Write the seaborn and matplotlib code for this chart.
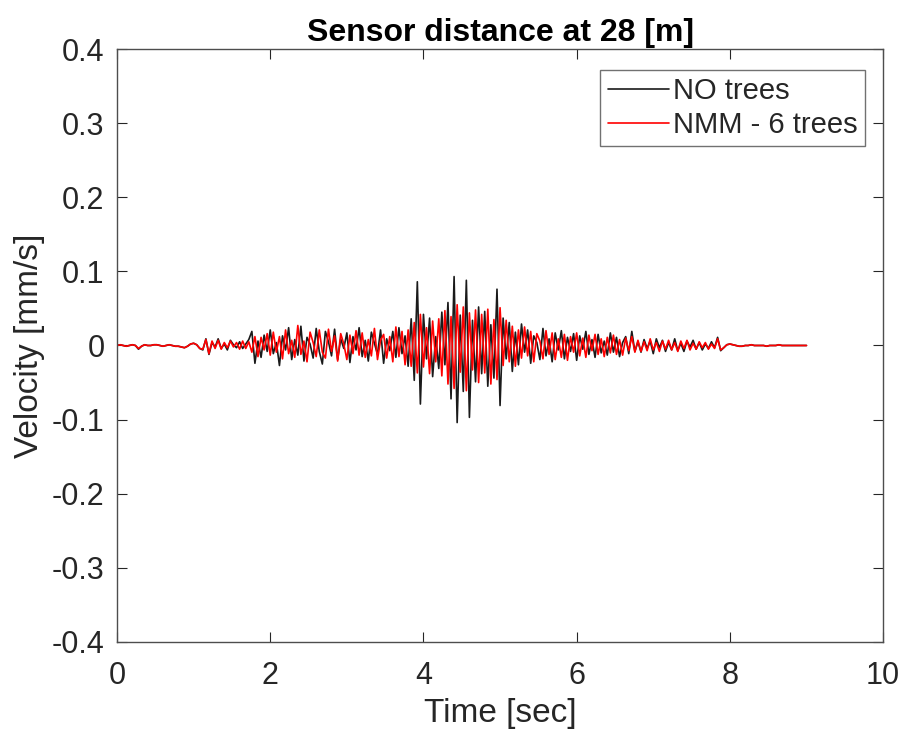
import numpy as np
import pandas as pd
import matplotlib
matplotlib.use("Agg")
import matplotlib.pyplot as plt
import seaborn as sns

title = "Sensor distance at 28 [m]"
series_names = ["NO trees", "NMM - 6 trees"]
x_ticks = [0, 2, 4, 6, 8, 10]
y_ticks = [-0.4, -0.3, -0.2, -0.1, 0, 0.1, 0.2, 0.3, 0.4]

# velocity [mm/s], sampled every 0.04 s from 0 to 9 s
vel_no_trees = [
    0.0, 0.001, 0.0, -0.001, 0.0, 0.001, 0.0, -0.005, -0.001, 0.001,
    0.0, 0.0, 0.001, 0.001, 0.0, -0.001, 0.0, 0.001, 0.0, -0.001,
    -0.001, -0.002, -0.003, -0.001, 0.002, 0.003, 0.001, -0.004, -0.006, 0.009,
    -0.012, 0.004, -0.002, 0.009, -0.004, 0.002, -0.006, 0.007, 0.001, -0.003,
    0.005, -0.004, 0.002, 0.008, 0.019, -0.024, 0.006, -0.016, 0.014, -0.008,
    0.021, -0.011, 0.004, -0.027, 0.013, -0.006, 0.024, -0.019, 0.008, -0.013,
    0.026, -0.021, 0.011, 0.002, -0.017, 0.023, -0.008, -0.025, 0.019, 0.005,
    -0.014, 0.022, -0.019, 0.009, -0.004, 0.017, -0.023, 0.012, -0.006, 0.024,
    -0.015, 0.007, -0.021, 0.018, 0.003, -0.012, 0.021, -0.024, 0.009, -0.007,
    0.019, -0.016, 0.024, -0.011, 0.013, -0.028, 0.036, -0.047, 0.086, -0.079,
    0.042, -0.018, 0.037, -0.042, 0.012, -0.031, 0.045, -0.026, 0.058, -0.072,
    0.093, -0.104, 0.041, -0.062, 0.088, -0.097, 0.034, -0.049, 0.052, -0.038,
    0.046, -0.055, 0.028, -0.044, 0.076, -0.081, 0.037, -0.018, 0.031, -0.035,
    0.018, -0.026, 0.029, -0.009, 0.021, -0.024, 0.013, 0.004, -0.019, 0.023,
    -0.014, 0.009, -0.022, 0.017, -0.006, 0.02, -0.018, 0.011, -0.008, 0.016,
    -0.02, 0.013, -0.005, 0.019, -0.012, 0.008, -0.016, 0.015, -0.01, 0.006,
    -0.013, 0.017, -0.009, 0.011, -0.015, 0.004, 0.012, -0.011, 0.019, -0.008,
    0.005, -0.009, 0.008, -0.004, 0.006, -0.011, 0.009, -0.003, 0.007, -0.008,
    0.004, -0.006, 0.009, -0.007, 0.003, -0.008, 0.006, -0.002, 0.007, -0.005,
    0.004, -0.006, 0.002, -0.004, 0.005, -0.003, 0.011, -0.007, -0.003, 0.001,
    0.002, 0.001, 0.0, -0.001, -0.001, 0.0, 0.0, 0.001, 0.0, 0.0,
    0.0, 0.0, -0.001, 0.0, 0.0, 0.0, 0.001, 0.0, 0.0, 0.0,
    0.0, 0.0, 0.0, 0.0, 0.0, 0.0,
]

vel_nmm_6_trees = [
    0.0, 0.001, 0.0, -0.001, 0.0, 0.001, 0.0, -0.004, -0.001, 0.001,
    0.0, 0.0, 0.001, 0.001, 0.0, -0.001, 0.0, 0.001, 0.0, -0.001,
    -0.001, -0.002, -0.003, -0.001, 0.002, 0.003, 0.001, -0.004, -0.005, 0.008,
    -0.011, 0.006, -0.004, 0.007, -0.005, 0.004, -0.003, 0.006, -0.002, 0.004,
    -0.005, 0.006, -0.004, 0.005, -0.009, 0.012, -0.015, 0.011, -0.006, 0.016,
    -0.013, 0.018, -0.009, 0.012, -0.018, 0.021, -0.011, 0.007, -0.016, 0.027,
    -0.012, 0.006, -0.022, 0.018, 0.004, -0.015, 0.021, -0.009, -0.017, 0.022,
    -0.008, 0.013, -0.021, 0.016, 0.002, -0.019, 0.014, -0.011, 0.02, -0.013,
    0.017, -0.016, 0.008, -0.014, 0.023, -0.019, 0.007, 0.015, -0.017, 0.012,
    -0.022, 0.025, -0.015, 0.019, -0.026, 0.021, -0.028, 0.031, -0.037, 0.042,
    -0.029, 0.024, -0.038, 0.033, -0.022, 0.036, -0.041, 0.047, -0.052, 0.039,
    -0.058, 0.055, -0.036, 0.052, -0.061, 0.044, -0.033, 0.048, -0.05, 0.042,
    -0.037, 0.049, -0.052, 0.035, -0.046, 0.051, -0.027, 0.034, -0.022, 0.026,
    -0.028, 0.021, -0.017, 0.025, -0.014, 0.019, -0.022, 0.016, 0.006, -0.018,
    0.02, -0.012, 0.017, -0.019, 0.009, -0.016, 0.015, -0.02, 0.012, -0.009,
    0.017, -0.014, 0.01, -0.016, 0.014, -0.007, 0.015, -0.012, 0.009, -0.015,
    0.011, -0.01, 0.014, -0.012, 0.008, -0.013, 0.01, -0.007, 0.012, -0.009,
    0.007, -0.008, 0.005, -0.007, 0.009, -0.006, 0.004, -0.008, 0.006, -0.005,
    0.007, -0.006, 0.004, -0.008, 0.006, -0.004, 0.007, -0.006, 0.003, -0.005,
    0.005, -0.003, 0.004, -0.005, 0.002, -0.004, 0.009, -0.006, -0.003, 0.001,
    0.002, 0.001, 0.0, -0.001, -0.001, 0.0, 0.0, 0.001, 0.0, 0.0,
    0.0, 0.0, -0.001, 0.0, 0.0, 0.0, 0.001, 0.0, 0.0, 0.0,
    0.0, 0.0, 0.0, 0.0, 0.0, 0.0,
]

t_start, t_end = 0.0, 9.0

sns.set_theme(style="white")
plt.rcParams["font.family"] = ["Liberation Sans", "DejaVu Sans"]

time = np.linspace(t_start, t_end, len(vel_no_trees))
df = pd.concat([
    pd.DataFrame({"Time": time, "Velocity": vel_no_trees, "Series": series_names[0]}),
    pd.DataFrame({"Time": time, "Velocity": vel_nmm_6_trees, "Series": series_names[1]}),
], ignore_index=True)

fig = plt.figure(figsize=(9.01, 7.38), dpi=100)
ax = fig.add_axes([0.1299, 0.1301, 0.8502, 0.8035])

sns.lineplot(data=df, x="Time", y="Velocity", hue="Series",
             palette={series_names[0]: "#1a1a1a", series_names[1]: "#ff0000"},
             linewidth=1.2, ax=ax, estimator=None, sort=False)

ax.set_xlim(0, 10)
ax.set_ylim(-0.4, 0.4)
ax.set_xticks(x_ticks)
ax.set_yticks(y_ticks)
ax.set_xticklabels([f"{v:g}" for v in x_ticks])
ax.set_yticklabels([f"{v:g}" for v in y_ticks])

txt = "#262626"
ax.tick_params(direction="in", length=7, width=0.8, colors=txt, labelsize=22,
               top=True, right=True, bottom=True, left=True)
ax.tick_params(axis="x", pad=14)
ax.tick_params(axis="y", pad=9)
for s in ax.spines.values():
    s.set_color("#4d4d4d")
    s.set_linewidth(1.0)
    s.set_visible(True)

ax.set_xlabel("Time [sec]", fontsize=24, color=txt, labelpad=5)
ax.set_ylabel("Velocity [mm/s]", fontsize=24, color=txt, labelpad=5)
ax.set_title(title, fontsize=23, fontweight="bold", color="#000000", pad=6)

leg = ax.legend(loc="upper right", bbox_to_anchor=(0.9765, 0.9646),
                fontsize=21, frameon=True, fancybox=False,
                borderpad=0.25, handlelength=2.1, handletextpad=0.15,
                labelspacing=0.2, borderaxespad=0.0)
leg.get_frame().set_edgecolor("#4d4d4d")
leg.get_frame().set_linewidth(1.0)
for t in leg.get_texts():
    t.set_color(txt)

fig.savefig("out.png", dpi=100)
